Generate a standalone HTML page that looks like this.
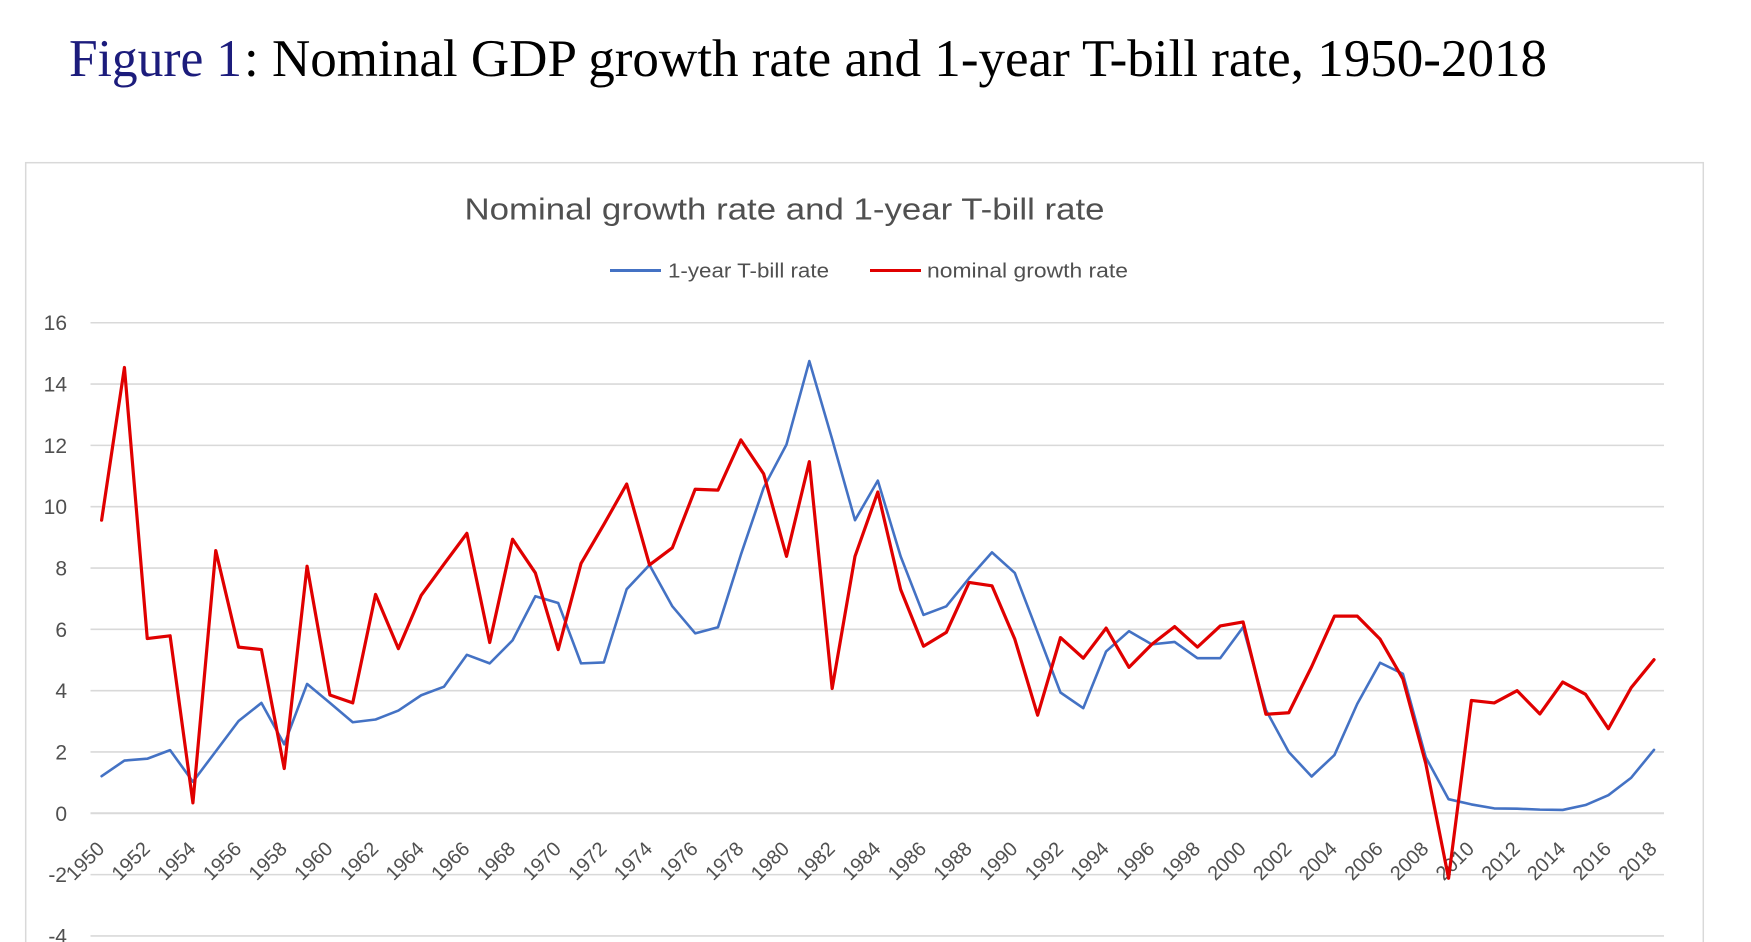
<!DOCTYPE html>
<html>
<head>
<meta charset="utf-8">
<style>
  html, body { margin:0; padding:0; background:#ffffff; }
  body { width:1751px; height:942px; overflow:hidden; }
  svg { display:block; }
  .ax { font-family:"Liberation Sans", Arial, sans-serif; fill:#505050; }
</style>
</head>
<body>
<svg width="1751" height="942" viewBox="0 0 1751 942" xmlns="http://www.w3.org/2000/svg">
  <rect x="0" y="0" width="1751" height="942" fill="#ffffff"/>

  <!-- Figure title -->
  <text x="69" y="76" font-family="'Liberation Serif', 'Times New Roman', serif" font-size="53" fill="#1c1c7c" textLength="173" lengthAdjust="spacingAndGlyphs">Figure 1</text>
  <text x="244" y="76" font-family="'Liberation Serif', 'Times New Roman', serif" font-size="53" fill="#000000" textLength="1303" lengthAdjust="spacingAndGlyphs">: Nominal GDP growth rate and 1-year T-bill rate, 1950-2018</text>

  <!-- Chart frame -->
  <rect x="25.7" y="162.7" width="1677.6" height="820" fill="#ffffff" stroke="#d9d9d9" stroke-width="1.5"/>

  <!-- Chart title -->
  <text class="ax" x="464.5" y="219.5" font-size="31" textLength="640" lengthAdjust="spacingAndGlyphs" fill="#595959">Nominal growth rate and 1-year T-bill rate</text>

  <!-- Legend -->
  <line x1="610" y1="270.5" x2="661" y2="270.5" stroke="#4472c4" stroke-width="3"/>
  <text class="ax" x="668" y="277.5" font-size="20" textLength="161" lengthAdjust="spacingAndGlyphs">1-year T-bill rate</text>
  <line x1="870" y1="270.5" x2="921" y2="270.5" stroke="#e00000" stroke-width="3"/>
  <text class="ax" x="927" y="277.5" font-size="20" textLength="201" lengthAdjust="spacingAndGlyphs">nominal growth rate</text>

  <!-- Gridlines -->
  <g stroke="#d9d9d9" stroke-width="1.6">
    <line x1="90.5" y1="322.74" x2="1664" y2="322.74"/>
    <line x1="90.5" y1="384.06" x2="1664" y2="384.06"/>
    <line x1="90.5" y1="445.38" x2="1664" y2="445.38"/>
    <line x1="90.5" y1="506.70" x2="1664" y2="506.70"/>
    <line x1="90.5" y1="568.02" x2="1664" y2="568.02"/>
    <line x1="90.5" y1="629.34" x2="1664" y2="629.34"/>
    <line x1="90.5" y1="690.66" x2="1664" y2="690.66"/>
    <line x1="90.5" y1="751.98" x2="1664" y2="751.98"/>
    <line x1="90.5" y1="813.30" x2="1664" y2="813.30" stroke-width="2"/>
    <line x1="90.5" y1="874.62" x2="1664" y2="874.62"/>
    <line x1="90.5" y1="935.94" x2="1664" y2="935.94"/>
  </g>

  <!-- Y axis labels -->
  <g class="ax" font-size="21" text-anchor="end">
    <text x="67" y="330.2">16</text>
    <text x="67" y="391.5">14</text>
    <text x="67" y="452.9">12</text>
    <text x="67" y="514.2">10</text>
    <text x="67" y="575.5">8</text>
    <text x="67" y="636.8">6</text>
    <text x="67" y="698.2">4</text>
    <text x="67" y="759.5">2</text>
    <text x="67" y="820.8">0</text>
    <text x="67" y="882.1">-2</text>
    <text x="67" y="943.4">-4</text>
  </g>

  <!-- X axis labels -->
  <g class="ax" font-size="20" text-anchor="end">
    <text transform="translate(105.60 850) rotate(-45)">1950</text>
    <text transform="translate(151.26 850) rotate(-45)">1952</text>
    <text transform="translate(196.92 850) rotate(-45)">1954</text>
    <text transform="translate(242.58 850) rotate(-45)">1956</text>
    <text transform="translate(288.24 850) rotate(-45)">1958</text>
    <text transform="translate(333.90 850) rotate(-45)">1960</text>
    <text transform="translate(379.56 850) rotate(-45)">1962</text>
    <text transform="translate(425.22 850) rotate(-45)">1964</text>
    <text transform="translate(470.88 850) rotate(-45)">1966</text>
    <text transform="translate(516.54 850) rotate(-45)">1968</text>
    <text transform="translate(562.20 850) rotate(-45)">1970</text>
    <text transform="translate(607.86 850) rotate(-45)">1972</text>
    <text transform="translate(653.52 850) rotate(-45)">1974</text>
    <text transform="translate(699.18 850) rotate(-45)">1976</text>
    <text transform="translate(744.84 850) rotate(-45)">1978</text>
    <text transform="translate(790.50 850) rotate(-45)">1980</text>
    <text transform="translate(836.16 850) rotate(-45)">1982</text>
    <text transform="translate(881.82 850) rotate(-45)">1984</text>
    <text transform="translate(927.48 850) rotate(-45)">1986</text>
    <text transform="translate(973.14 850) rotate(-45)">1988</text>
    <text transform="translate(1018.80 850) rotate(-45)">1990</text>
    <text transform="translate(1064.46 850) rotate(-45)">1992</text>
    <text transform="translate(1110.12 850) rotate(-45)">1994</text>
    <text transform="translate(1155.78 850) rotate(-45)">1996</text>
    <text transform="translate(1201.44 850) rotate(-45)">1998</text>
    <text transform="translate(1247.10 850) rotate(-45)">2000</text>
    <text transform="translate(1292.76 850) rotate(-45)">2002</text>
    <text transform="translate(1338.42 850) rotate(-45)">2004</text>
    <text transform="translate(1384.08 850) rotate(-45)">2006</text>
    <text transform="translate(1429.74 850) rotate(-45)">2008</text>
    <text transform="translate(1475.40 850) rotate(-45)">2010</text>
    <text transform="translate(1521.06 850) rotate(-45)">2012</text>
    <text transform="translate(1566.72 850) rotate(-45)">2014</text>
    <text transform="translate(1612.38 850) rotate(-45)">2016</text>
    <text transform="translate(1658.04 850) rotate(-45)">2018</text>
  </g>

  <!-- Series (data coordinates: x = year index, y = value) -->
  <g transform="translate(101.6 813.3) scale(22.83 -30.66)">
    <polyline fill="none" stroke="#4472c4" stroke-width="2.6" stroke-linejoin="round" stroke-linecap="round" vector-effect="non-scaling-stroke"
      points="0,1.21 1,1.72 2,1.78 3,2.06 4,1.03 5,2.02 6,3.01 7,3.60 8,2.25 9,4.22 10,3.60 11,2.97 12,3.06 13,3.35 14,3.85 15,4.13 16,5.17 17,4.89 18,5.64 19,7.08 20,6.86 21,4.89 22,4.92 23,7.31 24,8.10 25,6.75 26,5.87 27,6.07 28,8.43 29,10.62 30,12.03 31,14.75 32,12.20 33,9.56 34,10.85 35,8.38 36,6.47 37,6.75 38,7.67 39,8.51 40,7.84 41,5.90 42,3.94 43,3.43 44,5.28 45,5.94 46,5.51 47,5.59 48,5.06 49,5.06 50,6.07 51,3.37 52,2.00 53,1.20 54,1.90 55,3.57 56,4.91 57,4.55 58,1.83 59,0.46 60,0.29 61,0.16 62,0.15 63,0.12 64,0.11 65,0.27 66,0.59 67,1.16 68,2.07"/>
    <polyline fill="none" stroke="#e00000" stroke-width="3.2" stroke-linejoin="round" stroke-linecap="round" vector-effect="non-scaling-stroke"
      points="0,9.56 1,14.54 2,5.70 3,5.79 4,0.34 5,8.57 6,5.42 7,5.34 8,1.46 9,8.06 10,3.86 11,3.60 12,7.14 13,5.37 14,7.11 15,8.13 16,9.13 17,5.57 18,8.94 19,7.84 20,5.34 21,8.15 22,9.42 23,10.74 24,8.10 25,8.66 26,10.57 27,10.54 28,12.18 29,11.07 30,8.38 31,11.47 32,4.07 33,8.38 34,10.48 35,7.30 36,5.45 37,5.90 38,7.53 39,7.42 40,5.68 41,3.20 42,5.73 43,5.06 44,6.04 45,4.76 46,5.51 47,6.09 48,5.42 49,6.11 50,6.24 51,3.23 52,3.28 53,4.78 54,6.43 55,6.43 56,5.68 57,4.38 58,1.63 59,-2.12 60,3.68 61,3.60 62,4.00 63,3.24 64,4.28 65,3.88 66,2.76 67,4.10 68,5.01"/>
  </g>
</svg>
</body>
</html>
